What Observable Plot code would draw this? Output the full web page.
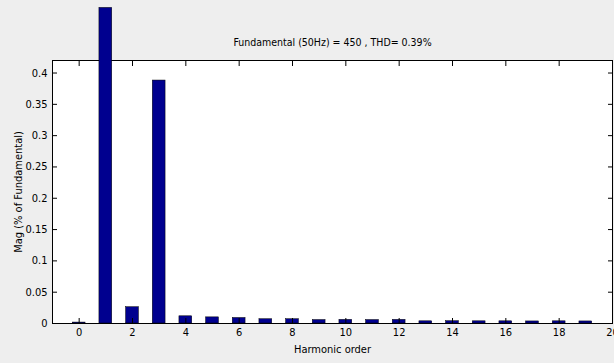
<!DOCTYPE html>
<html>
<head>
<meta charset="utf-8">
<script src="https://cdn.jsdelivr.net/npm/d3@7"></script>
<script src="https://cdn.jsdelivr.net/npm/@observablehq/plot@0.6"></script>
<style>
  html, body { margin: 0; padding: 0; background: #eeeeee; }
  #chart { width: 614px; height: 363px; }
</style>
</head>
<body>
<div id="chart"></div>
<script>
const harmonics = [0, 1, 2, 3, 4, 5, 6, 7, 8, 9, 10, 11, 12, 13, 14, 15, 16, 17, 18, 19];
const magnitudes = [0.0015, 0.504, 0.026, 0.388, 0.0115, 0.0098, 0.0088, 0.0068, 0.0068, 0.0055,
                    0.0058, 0.0055, 0.0058, 0.0035, 0.0037, 0.0035, 0.0035, 0.0033, 0.0035, 0.0033];
const xTicks = [0, 2, 4, 6, 8, 10, 12, 14, 16, 18, 20];
const yTicks = [0, 0.05, 0.1, 0.15, 0.2, 0.25, 0.3, 0.35, 0.4];
const yTickLabels = ["0", "0.05", "0.1", "0.15", "0.2", "0.25", "0.3", "0.35", "0.4"];
const titleText = "Fundamental (50Hz) = 450 , THD= 0.39%";
const xLabel = "Harmonic order";
const yLabel = "Mag (% of Fundamental)";

const data = harmonics.map((h, i) => ({h, v: magnitudes[i]}));
const halfWidth = 0.24;

const chart = Plot.plot({
  width: 614,
  height: 363,
  marginLeft: 52,
  marginRight: 2,
  marginTop: 60,
  marginBottom: 40,
  x: {domain: [-1, 20]},
  y: {domain: [0, 0.42]},
  style: {
    background: "transparent",
    fontFamily: "'Liberation Sans Narrow', 'DejaVu Sans Condensed', 'Liberation Sans', Arial, sans-serif",
    fontSize: "11px",
    color: "#000",
    overflow: "visible"
  },
  marks: [
    Plot.frame({fill: "white", stroke: "black"}),
    Plot.rectY(data, {
      x1: d => d.h - halfWidth,
      x2: d => d.h + halfWidth,
      y: "v",
      fill: "#00008f",
      stroke: "#000",
      strokeWidth: 0.5
    }),
    Plot.axisX(xTicks, {anchor: "bottom", tickSize: -5, tickPadding: 10, label: xLabel, labelAnchor: "center", labelArrow: "none", labelOffset: 29}),
    Plot.axisX(xTicks, {anchor: "top", tickSize: -5, tickFormat: () => "", fontSize: 10.5, label: titleText, labelAnchor: "center", labelArrow: "none", labelOffset: 22}),
    Plot.axisY(yTicks, {anchor: "left", tickSize: -5, tickPadding: 10, tickFormat: d => yTickLabels[yTicks.indexOf(d)], label: yLabel, labelAnchor: "center", labelArrow: "none", labelOffset: 38}),
    Plot.axisY(yTicks, {anchor: "right", tickSize: -5, tickFormat: () => "", label: null})
  ]
});
document.getElementById("chart").appendChild(chart);
</script>
</body>
</html>
